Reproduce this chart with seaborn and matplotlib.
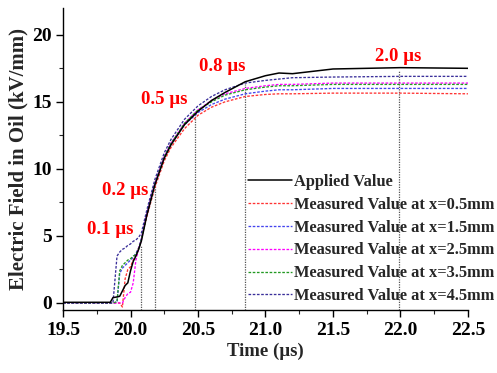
import numpy as np
import pandas as pd
import matplotlib
matplotlib.use("Agg")
import matplotlib.pyplot as plt
import seaborn as sns
from matplotlib.ticker import MultipleLocator

# ---- data ----
time_us = [19.5, 19.8, 19.85, 19.87, 19.9, 19.92, 19.94, 19.96, 19.98, 20.0, 20.02,
           20.04, 20.06, 20.08, 20.12, 20.18, 20.25, 20.3, 20.4, 20.5, 20.6, 20.7,
           20.85, 21.0, 21.1, 21.2, 21.5, 22.0, 22.5]

applied = [0.05, 0.05, 0.05, 0.4, 0.45, 0.5, 0.9, 1.3, 1.5, 2.4, 3.1,
           3.5, 4.0, 4.6, 6.5, 8.8, 10.8, 11.8, 13.3, 14.3, 15.1, 15.7,
           16.5, 16.95, 17.15, 17.1, 17.45, 17.55, 17.5]
meas_05 = [0.0, 0.0, 0.0, 0.0, 0.0, 0.0, -0.3, 1.8, 2.5, 2.7, 3.2,
           3.6, 4.1, 4.7, 6.4, 8.6, 10.6, 11.6, 13.0, 14.0, 14.6, 15.0,
           15.4, 15.55, 15.6, 15.6, 15.65, 15.65, 15.6]
meas_15 = [0.0, 0.0, 0.0, 0.0, 0.05, 2.2, 2.6, 2.8, 3.0, 3.2, 3.4,
           3.7, 4.1, 4.8, 6.6, 8.9, 10.9, 11.9, 13.3, 14.2, 14.8, 15.2,
           15.6, 15.8, 15.9, 15.9, 16.0, 16.0, 16.0]
meas_25 = [0.0, 0.0, 0.0, 0.0, 0.0, 0.0, 0.0, 0.4, 0.7, 0.8, 1.5,
           3.2, 4.0, 4.7, 6.6, 8.9, 10.9, 11.9, 13.4, 14.4, 15.1, 15.6,
           16.0, 16.2, 16.3, 16.3, 16.4, 16.4, 16.4]
meas_35 = [0.0, 0.0, 0.0, 0.0, 0.1, 2.4, 2.8, 3.0, 3.2, 3.3, 3.5,
           3.6, 4.0, 4.7, 6.6, 8.9, 10.9, 11.9, 13.4, 14.4, 15.0, 15.5,
           15.9, 16.1, 16.2, 16.2, 16.3, 16.3, 16.3]
meas_45 = [0.0, 0.0, 0.0, 0.0, 3.5, 3.8, 4.0, 4.1, 4.3, 4.4, 4.6,
           4.7, 4.9, 5.2, 6.9, 9.2, 11.2, 12.2, 13.7, 14.7, 15.4, 15.9,
           16.4, 16.6, 16.7, 16.8, 16.85, 16.9, 16.9]

series_names = ["Applied Value",
                "Measured Value at x=0.5mm",
                "Measured Value at x=1.5mm",
                "Measured Value at x=2.5mm",
                "Measured Value at x=3.5mm",
                "Measured Value at x=4.5mm"]
series_values = [applied, meas_05, meas_15, meas_25, meas_35, meas_45]
series_colors = ["#000000", "#ff3333", "#4444ee", "#ff00ff", "#229922", "#3a2f9a"]

marker_times = [20.08, 20.18, 20.48, 20.85, 21.99]
marker_tops = [4.3, 9.0, 14.2, 16.3, 17.4]
marker_labels = ["0.1 \u00b5s", "0.2 \u00b5s", "0.5 \u00b5s", "0.8 \u00b5s", "2.0 \u00b5s"]
label_pos = [(19.85, 5.5), (19.96, 8.4), (20.25, 15.2), (20.68, 17.6), (21.98, 18.4)]

xticks = [19.5, 20.0, 20.5, 21.0, 21.5, 22.0, 22.5]
yticks = [0, 5, 10, 15, 20]

# ---- build long-form table ----
frames = []
for name, vals in zip(series_names, series_values):
    frames.append(pd.DataFrame({"Time": time_us, "Field": vals, "Series": name}))
df = pd.concat(frames, ignore_index=True)

sns.set_style("ticks")
plt.rcParams["font.family"] = ["Liberation Serif", "DejaVu Serif"]
plt.rcParams["font.weight"] = "bold"

fig = plt.figure(figsize=(4.97, 3.73), dpi=100)
ax = fig.add_axes([0.1268, 0.1676, 0.8148, 0.811])

# dotted marker lines
for t, top in zip(marker_times, marker_tops):
    ax.plot([t, t], [-0.56, top], color="#555555", linestyle=(0, (1, 1)), linewidth=0.9, zorder=1)

for i, name in enumerate(series_names):
    sub = df[df["Series"] == name]
    if i == 0:
        ls, lw = "-", 1.1
    else:
        ls, lw = (0, (2.0, 1.2)), 0.95
    sns.lineplot(data=sub, x="Time", y="Field", ax=ax, color=series_colors[i],
                 linestyle=ls, linewidth=lw, label=name, estimator=None, sort=False,
                 zorder=3 if i == 0 else 2)

for txt, (x, y) in zip(marker_labels, label_pos):
    ax.text(x, y, txt, color="#ff0000", fontsize=13.5, fontweight="bold", ha="center", va="center")

ax.set_xlim(19.5, 22.5)
ax.set_ylim(-0.56, 22.0)
ax.set_xticks(xticks)
ax.set_yticks(yticks)
ax.set_xticklabels([f"{v:.1f}" for v in xticks])
ax.set_yticklabels([str(v) for v in yticks])
ax.xaxis.set_minor_locator(MultipleLocator(0.25))
ax.yaxis.set_minor_locator(MultipleLocator(2.5))
ax.tick_params(which="major", direction="out", length=5, width=1, labelsize=14, colors="black", pad=3)
ax.tick_params(which="minor", direction="out", length=3, width=0.8)
for lab in ax.get_xticklabels() + ax.get_yticklabels():
    lab.set_fontweight("bold")

sns.despine(ax=ax)
for sp in ["left", "bottom"]:
    ax.spines[sp].set_linewidth(1.0)
    ax.spines[sp].set_color("black")

ax.set_xlabel("Time (\u00b5s)", fontsize=13.5, fontweight="bold", labelpad=3)
ax.set_ylabel("Electric Field in Oil (kV/mm)", fontsize=15, fontweight="bold", labelpad=3)

leg = ax.legend(loc="upper left", bbox_to_anchor=(0.457, 0.452), frameon=False,
                fontsize=11.8, handlelength=2.65, handletextpad=0.15, labelspacing=0.42,
                borderaxespad=0, borderpad=0)
for t in leg.get_texts():
    t.set_fontweight("bold")

fig.savefig("out.png", dpi=100)
